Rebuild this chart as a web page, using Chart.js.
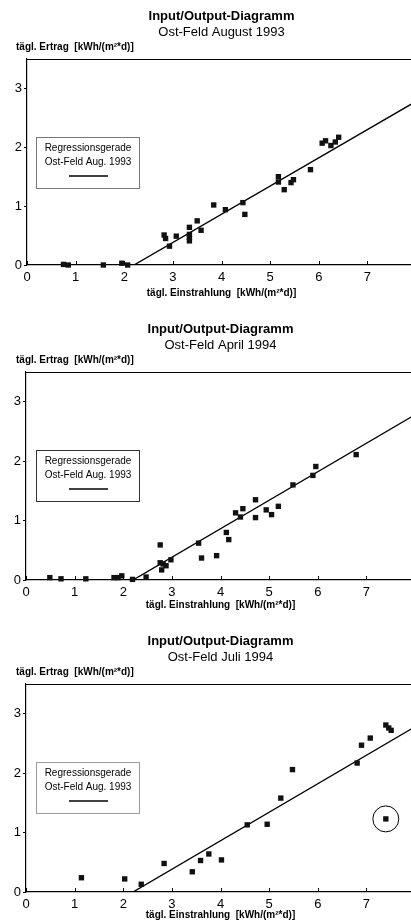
<!DOCTYPE html>
<html><head><meta charset="utf-8">
<script src="https://cdn.jsdelivr.net/npm/chart.js@4.4.0/dist/chart.umd.min.js"></script>
<style>
html,body{margin:0;padding:0;background:#fff;overflow:hidden;width:411px;height:924px;}
.box{position:absolute;left:0;}
</style></head><body>
<div class="box" id="b1"><canvas id="c1"></canvas></div>
<div class="box" id="b2"><canvas id="c2"></canvas></div>
<div class="box" id="b3"><canvas id="c3"></canvas></div>
<script>
// ---------- data ----------
const xTicks = [0, 1, 2, 3, 4, 5, 6, 7];
const yTicks = [0, 1, 2, 3];
const mainTitle = 'Input/Output-Diagramm';
const subTitles = ['Ost-Feld August 1993', 'Ost-Feld April 1994', 'Ost-Feld Juli 1994'];
const yAxisLabel = 'tägl. Ertrag  [kWh/(m²*d)]';
const xAxisLabel = 'tägl. Einstrahlung  [kWh/(m²*d)]';
const legendLines = ['Regressionsgerade', 'Ost-Feld Aug. 1993'];

const aug93X = [0.75, 0.85, 1.57, 1.95, 2.07, 2.82, 2.85, 2.93, 3.07, 3.34, 3.34, 3.34, 3.34, 3.50, 3.58, 3.84, 4.08, 4.44, 4.48, 5.17, 5.17, 5.29, 5.43, 5.48, 5.83, 6.07, 6.14, 6.25, 6.34, 6.41];
const aug93Y = [0.01, 0.00, 0.00, 0.03, 0.00, 0.51, 0.45, 0.32, 0.49, 0.64, 0.52, 0.47, 0.41, 0.75, 0.59, 1.02, 0.94, 1.06, 0.86, 1.50, 1.41, 1.28, 1.40, 1.45, 1.62, 2.07, 2.11, 2.03, 2.09, 2.17];

const apr94X = [0.49, 0.72, 1.23, 1.81, 1.89, 1.97, 2.19, 2.47, 2.76, 2.76, 2.79, 2.82, 2.88, 2.98, 3.55, 3.61, 3.92, 4.12, 4.17, 4.31, 4.41, 4.46, 4.72, 4.72, 4.94, 5.05, 5.19, 5.49, 5.90, 5.96, 6.79];
const apr94Y = [0.04, 0.02, 0.02, 0.04, 0.04, 0.07, 0.01, 0.05, 0.59, 0.29, 0.17, 0.27, 0.24, 0.34, 0.62, 0.37, 0.41, 0.80, 0.68, 1.13, 1.06, 1.20, 1.35, 1.05, 1.18, 1.10, 1.24, 1.60, 1.76, 1.91, 2.11];

const jul94X = [1.14, 2.03, 2.37, 2.84, 3.42, 3.59, 3.76, 4.02, 4.55, 4.96, 5.24, 5.48, 6.81, 6.90, 7.08, 7.40, 7.46, 7.51, 7.40];
const jul94Y = [0.24, 0.22, 0.13, 0.48, 0.34, 0.53, 0.64, 0.54, 1.13, 1.14, 1.58, 2.06, 2.17, 2.47, 2.59, 2.81, 2.76, 2.72, 1.23];

const outlierX = [7.40];
const outlierY = [1.23];

// regression line (Ost-Feld Aug. 1993)
const regX = [2.2, 8.0];
const regY = [0.0, 2.78];

// ---------- rendering ----------
const FAM = '"Liberation Sans", Arial, Helvetica, sans-serif';
Chart.defaults.font.family = FAM;
Chart.defaults.color = '#000';

const pts = (xs, ys) => xs.map((x, i) => ({x: x, y: ys[i]}));

const overlay = {
  id: 'overlay',
  afterDraw(chart, args, o) {
    const ctx = chart.ctx, a = chart.chartArea;
    const xs = chart.scales.x;
    ctx.save();
    ctx.strokeStyle = '#000';
    ctx.lineWidth = 1.2;
    ctx.beginPath();
    ctx.moveTo(a.left, a.top + 0.5);
    ctx.lineTo(a.right, a.top + 0.5);
    ctx.stroke();
    ctx.lineWidth = 1;
    ctx.beginPath();
    xTicks.forEach(v => {
      const p = Math.round(xs.getPixelForValue(v)) + 0.5;
      ctx.moveTo(p, a.bottom);
      ctx.lineTo(p, a.bottom - 4);
    });
    ctx.stroke();
    const cx = (a.left + a.right) / 2;
    ctx.fillStyle = '#000';
    ctx.textAlign = 'center';
    ctx.textBaseline = 'middle';
    ctx.font = 'bold 13px ' + FAM;
    ctx.fillText(mainTitle, cx, a.top + o.tOff);
    ctx.font = '13px ' + FAM;
    ctx.fillText(o.subtitle, cx, a.top + o.sOff);
    ctx.textAlign = 'left';
    ctx.font = 'bold 10px ' + FAM;
    ctx.fillText(yAxisLabel, 16, a.top + o.yOff);
    const L = 36, R = 139, T = a.top + 78, B = a.top + 129;
    ctx.strokeStyle = o.legendColor;
    ctx.lineWidth = 1;
    ctx.strokeRect(L + 0.5, T + 0.5, R - L, B - T);
    ctx.fillStyle = '#000';
    ctx.textAlign = 'center';
    ctx.font = '10px ' + FAM;
    ctx.fillText(legendLines[0], 88, a.top + 89);
    ctx.fillText(legendLines[1], 88, a.top + 103);
    ctx.strokeStyle = '#000';
    ctx.lineWidth = 1.5;
    ctx.beginPath();
    ctx.moveTo(69, a.top + 117);
    ctx.lineTo(108, a.top + 117);
    ctx.stroke();
    ctx.restore();
  }
};

function makeChart(id, boxId, cfg) {
  const W = 440;
  const H = cfg.xTitleY + 6 - cfg.top;
  const box = document.getElementById(boxId);
  box.style.top = cfg.top + 'px';
  const cv = document.getElementById(id);
  cv.width = W; cv.height = H;
  cv.style.width = W + 'px'; cv.style.height = H + 'px';
  const xH = H - (cfg.plotBottom - cfg.top);
  const right = cfg.left + 389;

  const datasets = [
    {
      data: pts(cfg.xs, cfg.ys),
      pointStyle: 'rect', pointRadius: 3.8, pointHoverRadius: 3.8,
      backgroundColor: '#111', borderColor: '#111', borderWidth: 0,
      showLine: false, clip: false
    },
    {
      data: pts(regX, regY),
      showLine: true, pointRadius: 0, borderColor: '#000', borderWidth: 1.4,
      backgroundColor: '#000'
    }
  ];
  if (cfg.circle) {
    datasets.push({
      data: pts(outlierX, outlierY),
      pointStyle: 'circle', pointRadius: 13, pointHoverRadius: 13,
      backgroundColor: 'rgba(0,0,0,0)', borderColor: '#000', borderWidth: 1,
      showLine: false, clip: false
    });
  }

  new Chart(cv, {
    type: 'scatter',
    data: {datasets: datasets},
    plugins: [overlay],
    options: {
      responsive: false,
      devicePixelRatio: 1,
      animation: false,
      events: [],
      layout: {padding: {top: cfg.plotTop - cfg.top, left: 0, right: W - right, bottom: 0}},
      plugins: {
        legend: {display: false},
        tooltip: {enabled: false},
        overlay: {subtitle: cfg.subtitle, legendColor: cfg.legendColor,
                  tOff: cfg.tOff, sOff: cfg.sOff, yOff: cfg.yOff}
      },
      scales: {
        x: {
          type: 'linear', min: 0, max: 8,
          afterFit: s => { s.height = xH; },
          ticks: {
            stepSize: 1, includeBounds: false, autoSkip: false, maxRotation: 0,
            padding: 5, color: '#000', font: {size: 13},
            callback: v => xTicks.includes(v) ? String(v) : ''
          },
          grid: {display: true, drawOnChartArea: false, drawTicks: false, color: '#000'},
          border: {display: true, color: '#000', width: 1.2},
          title: {display: true, text: xAxisLabel, color: '#000',
                  font: {size: 10, weight: 'bold'}, padding: {top: 0, bottom: 0}}
        },
        y: {
          type: 'linear', min: 0, max: 3.5,
          afterFit: s => { s.width = cfg.left; },
          ticks: {
            stepSize: 1, includeBounds: false, padding: 2, color: '#000', font: {size: 13},
            callback: v => yTicks.includes(v) ? String(v) : ''
          },
          grid: {display: true, drawOnChartArea: false, drawTicks: true, tickLength: 3, color: '#000'},
          border: {display: true, color: '#000', width: 1.2}
        }
      }
    }
  });
}

makeChart('c1', 'b1', {top: 0, plotTop: 59, plotBottom: 265, xTitleY: 293, left: 27,
  tOff: -43, sOff: -27, yOff: -12,
  xs: aug93X, ys: aug93Y, subtitle: subTitles[0], legendColor: '#777'});
makeChart('c2', 'b2', {top: 305, plotTop: 372, plotBottom: 580, xTitleY: 605, left: 26,
  tOff: -43, sOff: -27, yOff: -12,
  xs: apr94X, ys: apr94Y, subtitle: subTitles[1], legendColor: '#333'});
makeChart('c3', 'b3', {top: 615, plotTop: 684, plotBottom: 892, xTitleY: 915, left: 26,
  tOff: -43, sOff: -27, yOff: -12,
  xs: jul94X, ys: jul94Y, subtitle: subTitles[2], legendColor: '#999', circle: true});
</script>
</body></html>
